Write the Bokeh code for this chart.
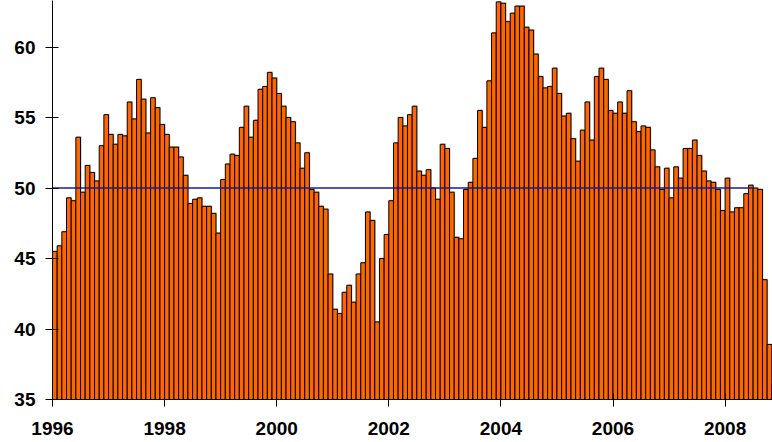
from bokeh.plotting import figure
from bokeh.models import FixedTicker, Range1d, ColumnDataSource
from bokeh.embed import file_html
from bokeh.resources import INLINE

start_year = 1996
values = [
    45.5, 45.9, 46.9, 49.3, 49.1, 53.6, 49.7, 51.6, 51.1, 50.5, 53.0, 55.2,
    53.8, 53.1, 53.8, 53.7, 56.1, 54.9, 57.7, 56.3, 53.9, 56.4, 55.7, 54.5,
    53.8, 52.9, 52.9, 52.2, 50.9, 48.9, 49.2, 49.3, 48.7, 48.7, 48.2, 46.8,
    50.6, 51.7, 52.4, 52.3, 54.3, 55.8, 53.6, 54.8, 57.0, 57.2, 58.2, 57.8,
    56.7, 55.8, 55.0, 54.7, 53.2, 51.4, 52.5, 49.9, 49.7, 48.7, 48.5, 43.9,
    41.4, 41.1, 42.6, 43.1, 41.9, 43.9, 44.7, 48.3, 47.7, 40.5, 45.0, 46.7,
    49.1, 53.2, 55.0, 54.4, 55.2, 55.8, 51.2, 50.9, 51.3, 50.0, 49.2, 53.1,
    52.8, 49.7, 46.5, 46.4, 49.9, 50.4, 52.1, 55.5, 54.3, 57.6, 61.0, 63.2,
    63.1, 61.8, 62.4, 62.9, 62.9, 61.4, 61.2, 59.5, 57.9, 57.1, 57.2, 58.5,
    56.7, 55.1, 55.3, 53.5, 51.9, 54.1, 56.1, 53.4, 57.9, 58.5, 57.7, 55.5,
    55.3, 56.1, 55.3, 56.9, 54.7, 54.0, 54.4, 54.3, 52.7, 51.5, 49.9, 51.4,
    49.3, 51.5, 50.7, 52.8, 52.8, 53.4, 52.3, 51.2, 50.5, 50.4, 49.9, 48.4,
    50.7, 48.3, 48.6, 48.6, 49.6, 50.2, 50.0, 49.9, 43.5, 38.9, 36.1,
]
reference_level = 50
reference_months = 150
y_ticks = [35, 40, 45, 50, 55, 60]
x_ticks = [1996, 1998, 2000, 2002, 2004, 2006, 2008]
x_tick_labels = ["1996", "1998", "2000", "2002", "2004", "2006", "2008"]

base = 35
left = [start_year + i / 12 for i in range(len(values))]
right = [start_year + (i + 1) / 12 for i in range(len(values))]
bottom = [base] * len(values)

px_x = 56.05  # pixels per year
px_y = 14.1   # pixels per unit
frame_w, frame_h = 720, 399

p = figure(width=772, height=442, output_backend="svg", toolbar_location=None,
           frame_width=frame_w, frame_height=frame_h,
           min_border_left=52, min_border_right=0, min_border_top=0, min_border_bottom=43,
           x_range=Range1d(start_year, start_year + frame_w / px_x),
           y_range=Range1d(base, base + frame_h / px_y))
p.outline_line_color = None
p.grid.visible = False
p.background_fill_color = "white"

dx = 1.0 / px_x
dy = 1.0 / px_y
shadow = ColumnDataSource(dict(left=[l + dx for l in left], right=[r + dx for r in right],
                               top=[v + dy for v in values], bottom=bottom))
p.quad(left="left", right="right", top="top", bottom="bottom", source=shadow,
       fill_color="#808080", fill_alpha=0.45, line_color=None)

src = ColumnDataSource(dict(left=left, right=right, top=values, bottom=bottom))
p.quad(left="left", right="right", top="top", bottom="bottom", source=src,
       fill_color="#FF6600", line_color="black", line_width=1)

p.line(x=[start_year, start_year + reference_months / 12], y=[reference_level, reference_level],
       line_color="#1a1aa0", line_width=1.5)

for ax in (p.xaxis[0], p.yaxis[0]):
    ax.axis_line_color = "black"
    ax.major_tick_line_color = "black"
    ax.major_tick_in = 6
    ax.major_tick_out = 7
    ax.minor_tick_line_color = None
    ax.major_label_text_font = "Liberation Sans"
    ax.major_label_text_font_style = "bold"
    ax.major_label_text_font_size = "19px"
    ax.major_label_text_color = "black"

p.yaxis.ticker = FixedTicker(ticks=y_ticks)
p.yaxis.major_label_standoff = 10
p.xaxis.ticker = FixedTicker(ticks=x_ticks)
p.xaxis.major_label_overrides = {t: l for t, l in zip(x_ticks, x_tick_labels)}
p.xaxis.major_label_standoff = 15

open("out.html", "w").write(file_html(p, INLINE))
